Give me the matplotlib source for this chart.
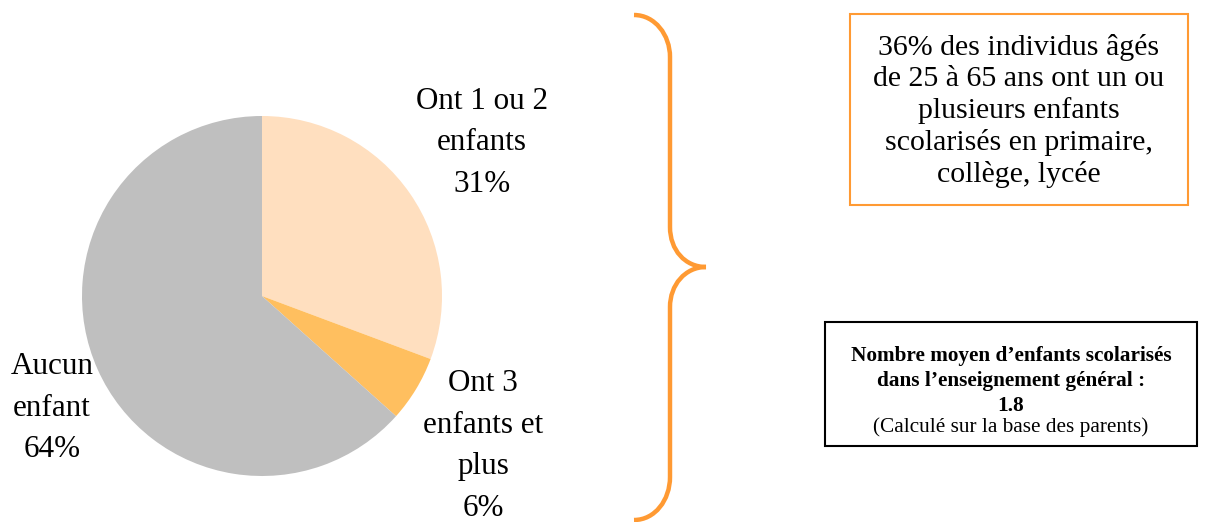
import numpy as np
import matplotlib.pyplot as plt
from matplotlib.path import Path
from matplotlib.patches import PathPatch, Rectangle

# parts of the pie (percent), clockwise from the top
labels = ["Ont 1 ou 2\nenfants\n31%", "Ont 3\nenfants et\nplus\n6%", "Aucun\nenfant\n64%"]
values = [31, 6, 64]
colors = ["#FFDFBF", "#FFBF5F", "#BFBFBF"]

orange_text = ("36% des individus âgés\nde 25 à 65 ans ont un ou\nplusieurs enfants\n"
               "scolarisés en primaire,\ncollège, lycée")
black_bold = "Nombre moyen d’enfants scolarisés\ndans l’enseignement général :\n1.8"
black_note = "(Calculé sur la base des parents)"

plt.rcParams['font.family'] = ['Liberation Serif', 'DejaVu Serif']

fig = plt.figure(figsize=(12.12, 5.22), dpi=100)
ax = fig.add_axes([0, 0, 1, 1])

# pie (y axis is flipped, so counterclock=True draws clockwise on screen)
ax.pie(values, colors=colors, startangle=-90, counterclock=True,
       center=(262, 296), radius=180, frame=True,
       wedgeprops=dict(linewidth=0))
ax.set_xlim(0, 1212)
ax.set_ylim(522, 0)
ax.set_aspect('equal')
ax.axis('off')

label_pos = [(482, 143), (483, 446), (52, 408)]
for lab, (x, y) in zip(labels, label_pos):
    ax.text(x, y, lab, ha='center', va='center', fontsize=22.4, linespacing=1.58)

# curly brace
verts = [(634, 15), (655, 15), (670, 35), (670, 57),
         (670, 227),
         (670, 250), (685, 267), (706, 267),
         (685, 267), (670, 285), (670, 307),
         (670, 477),
         (670, 500), (655, 520), (634, 520)]
codes = [Path.MOVETO, Path.CURVE4, Path.CURVE4, Path.CURVE4,
         Path.LINETO,
         Path.CURVE4, Path.CURVE4, Path.CURVE4,
         Path.CURVE4, Path.CURVE4, Path.CURVE4,
         Path.LINETO,
         Path.CURVE4, Path.CURVE4, Path.CURVE4]
ax.add_patch(PathPatch(Path(verts, codes), fill=False, edgecolor='#FF9A33', lw=3.2))

# orange box
ax.add_patch(Rectangle((850, 14), 338, 191, fill=False, edgecolor='#FF9A33', lw=1.5))
ax.text(1019, 111, orange_text, ha='center', va='center', fontsize=21.5, linespacing=1.25)

# black box
ax.add_patch(Rectangle((825, 322), 372, 124, fill=False, edgecolor='black', lw=1.5))
ax.text(1011, 381, black_bold, ha='center', va='center', fontsize=15.3,
        fontweight='bold', linespacing=1.32)
ax.text(1011, 427, black_note, ha='center', va='center', fontsize=15.3)

fig.savefig('out.png', dpi=100)
